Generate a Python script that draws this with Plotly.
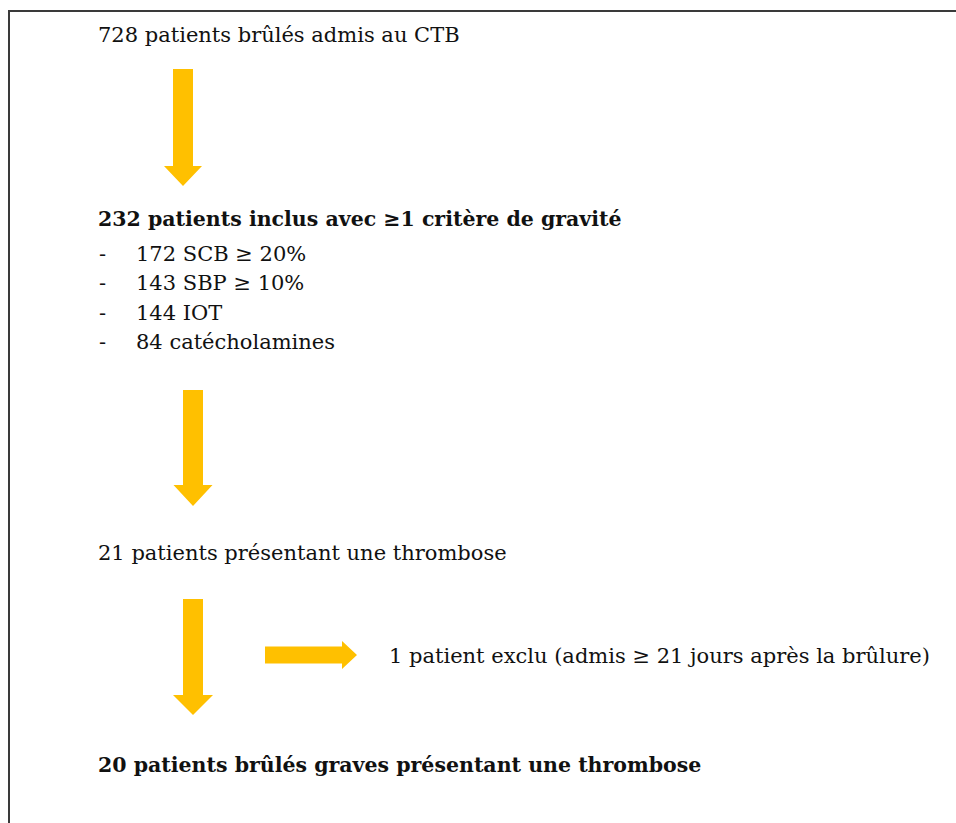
import plotly.graph_objects as go

# ---- content ----
step_texts = [
    "728 patients brûlés admis au CTB",
    "<b>232 patients inclus avec ≥1 critère de gravité</b>",
    "21 patients présentant une thrombose",
    "<b>20 patients brûlés graves présentant une thrombose</b>",
]
step_bold = [False, True, False, True]
criteria_counts = [172, 143, 144, 84]
criteria_labels = ["SCB ≥ 20%", "SBP ≥ 10%", "IOT", "catécholamines"]
exclusion_text = "1 patient exclu (admis ≥ 21 jours après la brûlure)"

# ---- layout constants ----
W, H = 956, 823
FONT = "DejaVu Serif"
FS = 21
FS_BOLD = 20.5
TEXT_X = 96
step_y = [35, 219, 553, 765]
crit_y = [254, 283, 313, 342]
DASH_X = 97
CRIT_X = 134
EXCL_X = 387
EXCL_Y = 656
GOLD = "#FFC000"
TXT_COL = "#111111"

fig = go.Figure()

def down_arrow(cx, y0, yhead, ytip, shaft_w, head_w):
    return (f"M {cx - shaft_w/2} {y0} L {cx + shaft_w/2} {y0} L {cx + shaft_w/2} {yhead} "
            f"L {cx + head_w/2} {yhead} L {cx} {ytip} L {cx - head_w/2} {yhead} "
            f"L {cx - shaft_w/2} {yhead} Z")

def right_arrow(x0, xhead, xtip, cy, shaft_h, head_h):
    return (f"M {x0} {cy - shaft_h/2} L {xhead} {cy - shaft_h/2} L {xhead} {cy - head_h/2} "
            f"L {xtip} {cy} L {xhead} {cy + head_h/2} L {xhead} {cy + shaft_h/2} "
            f"L {x0} {cy + shaft_h/2} Z")

shapes = [
    dict(type="rect", xref="x", yref="y", x0=9, y0=11, x1=W + 20, y1=H + 20,
         line=dict(color="#3a3a3a", width=2), fillcolor="rgba(0,0,0,0)"),
    dict(type="path", xref="x", yref="y", path=down_arrow(183, 69, 166, 186, 20, 38),
         fillcolor=GOLD, line=dict(width=0)),
    dict(type="path", xref="x", yref="y", path=down_arrow(193, 390, 485, 506, 20, 39),
         fillcolor=GOLD, line=dict(width=0)),
    dict(type="path", xref="x", yref="y", path=down_arrow(193, 599, 695, 715, 20, 40),
         fillcolor=GOLD, line=dict(width=0)),
    dict(type="path", xref="x", yref="y", path=right_arrow(265, 342, 357, 655, 17, 28),
         fillcolor=GOLD, line=dict(width=0)),
]

annotations = []
for txt, y, b in zip(step_texts, step_y, step_bold):
    annotations.append(dict(x=TEXT_X, y=y, xref="x", yref="y", text=txt, showarrow=False,
                            xanchor="left", yanchor="middle",
                            font=dict(family=FONT, size=FS_BOLD if b else FS, color=TXT_COL)))
for n, lab, y in zip(criteria_counts, criteria_labels, crit_y):
    annotations.append(dict(x=DASH_X, y=y, xref="x", yref="y", text="-", showarrow=False,
                            xanchor="left", yanchor="middle",
                            font=dict(family=FONT, size=FS, color=TXT_COL)))
    annotations.append(dict(x=CRIT_X, y=y, xref="x", yref="y", text=f"{n} {lab}", showarrow=False,
                            xanchor="left", yanchor="middle",
                            font=dict(family=FONT, size=FS, color=TXT_COL)))
annotations.append(dict(x=EXCL_X, y=EXCL_Y, xref="x", yref="y", text=exclusion_text, showarrow=False,
                        xanchor="left", yanchor="middle",
                        font=dict(family=FONT, size=FS, color=TXT_COL)))

fig.update_layout(
    width=W, height=H,
    margin=dict(l=0, r=0, t=0, b=0),
    paper_bgcolor="white", plot_bgcolor="white",
    xaxis=dict(range=[0, W], visible=False, fixedrange=True),
    yaxis=dict(range=[H, 0], visible=False, fixedrange=True),
    shapes=shapes, annotations=annotations,
    showlegend=False,
)
fig.write_html("out.html", config={"displayModeBar": False},
               post_script="document.body.style.margin='0';document.body.style.overflow='hidden';")
